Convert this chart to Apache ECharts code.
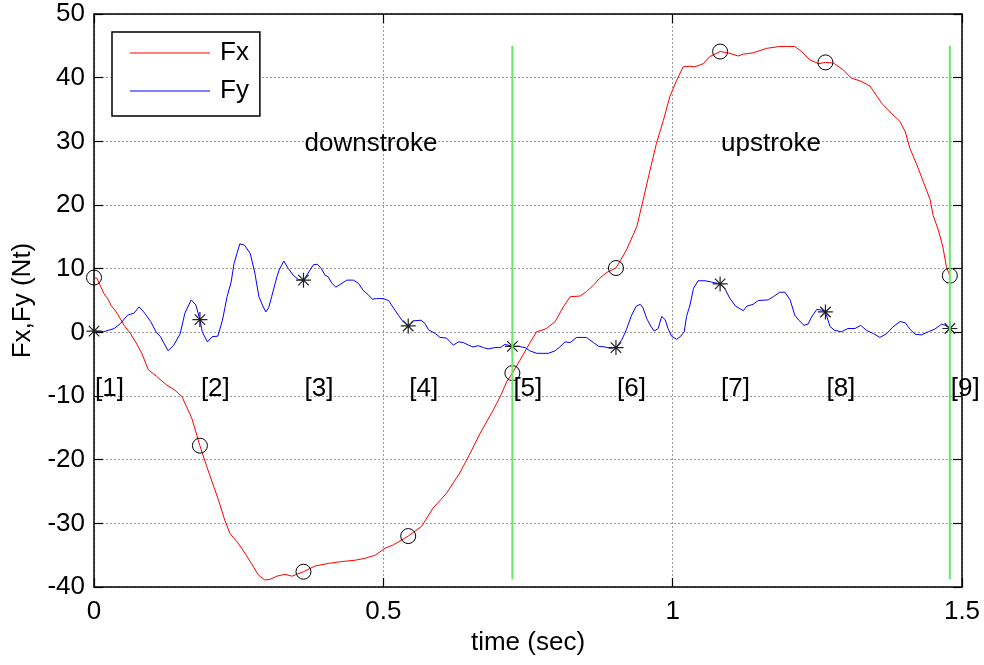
<!DOCTYPE html>
<html>
<head>
<meta charset="utf-8">
<title>Fx, Fy over one stroke cycle</title>
<script src="https://cdn.jsdelivr.net/npm/echarts@6/dist/echarts.min.js"></script>
<style>
  html, body { margin: 0; padding: 0; background: #fff; }
  #chart { width: 984px; height: 665px; }
</style>
</head>
<body>
<div id="chart"></div>
<script>
// Horizontal force Fx (Nt) sampled over time (sec)
const fxTime = [0.000,0.005,0.017,0.025,0.029,0.040,0.052,0.063,0.075,0.083,0.094,0.108,0.126,0.140,0.152,0.160,0.169,0.183,0.195,0.203,0.215,0.226,0.235,0.249,0.261,0.272,0.284,0.295,0.304,0.316,0.330,0.342,0.362,0.382,0.405,0.428,0.451,0.468,0.486,0.494,0.503,0.517,0.543,0.566,0.586,0.609,0.632,0.650,0.667,0.690,0.702,0.713,0.723,0.736,0.753,0.765,0.776,0.782,0.797,0.811,0.823,0.840,0.851,0.863,0.874,0.886,0.902,0.920,0.938,0.949,0.961,0.972,0.984,0.995,1.007,1.018,1.030,1.038,1.053,1.064,1.082,1.096,1.113,1.122,1.139,1.162,1.185,1.197,1.211,1.223,1.237,1.252,1.264,1.278,1.295,1.309,1.324,1.341,1.361,1.378,1.393,1.402,1.410,1.422,1.433,1.445,1.450,1.459,1.467,1.473,1.479];
const fxValue = [8.6,8.5,6.1,5.1,4.3,3.0,1.1,-0.2,-2.0,-3.4,-5.9,-6.9,-8.3,-9.1,-10.1,-11.7,-13.5,-17.8,-21.1,-23.2,-26.3,-29.5,-31.6,-33.1,-34.7,-36.3,-38.1,-38.9,-38.8,-38.3,-38.0,-38.3,-37.6,-36.7,-36.3,-36.0,-35.8,-35.5,-35.0,-34.5,-33.9,-33.4,-32.0,-30.5,-27.6,-25.3,-22.1,-19.0,-15.9,-12.2,-10.1,-7.8,-6.4,-4.4,-1.7,0.1,0.4,0.6,1.7,4.0,5.6,5.7,6.4,7.4,8.5,9.4,10.1,12.9,16.6,20.8,25.5,29.7,33.3,37.0,39.6,41.7,41.8,41.7,42.2,43.3,44.1,43.9,43.4,43.7,43.9,44.6,44.9,44.9,44.9,44.1,42.8,42.2,42.4,42.3,41.2,39.9,39.5,38.7,36.0,34.4,33.1,31.5,28.9,26.3,23.7,20.8,18.4,16.1,13.4,10.3,8.9];

// Vertical force Fy (Nt) sampled over time (sec)
const fyTime = [0.000,0.003,0.017,0.035,0.046,0.058,0.069,0.078,0.086,0.098,0.107,0.115,0.128,0.138,0.149,0.157,0.168,0.176,0.183,0.187,0.196,0.204,0.214,0.222,0.230,0.237,0.242,0.252,0.260,0.270,0.278,0.285,0.291,0.297,0.302,0.307,0.316,0.320,0.328,0.336,0.344,0.353,0.362,0.370,0.379,0.386,0.393,0.399,0.405,0.411,0.418,0.425,0.437,0.448,0.457,0.465,0.474,0.481,0.488,0.500,0.509,0.514,0.520,0.526,0.532,0.543,0.552,0.565,0.572,0.578,0.584,0.590,0.598,0.609,0.621,0.630,0.638,0.647,0.655,0.664,0.673,0.681,0.693,0.702,0.710,0.723,0.733,0.745,0.753,0.765,0.785,0.797,0.805,0.814,0.823,0.834,0.851,0.863,0.872,0.883,0.892,0.902,0.912,0.920,0.929,0.937,0.944,0.949,0.955,0.962,0.968,0.975,0.981,0.987,0.992,0.998,1.007,1.014,1.020,1.024,1.030,1.036,1.044,1.056,1.067,1.082,1.090,1.099,1.109,1.122,1.128,1.139,1.148,1.165,1.174,1.185,1.194,1.203,1.211,1.218,1.227,1.234,1.240,1.249,1.257,1.264,1.272,1.280,1.292,1.303,1.315,1.325,1.335,1.347,1.358,1.370,1.380,1.393,1.402,1.410,1.419,1.430,1.442,1.453,1.465,1.471,1.479];
const fyValue = [0.2,0.0,0.1,0.6,1.4,2.7,3.0,4.0,3.2,1.7,0.1,-0.7,-2.9,-2.0,-0.2,3.0,5.1,4.3,2.0,0.1,-1.5,-0.7,-0.6,1.9,5.6,7.9,10.8,13.9,13.7,12.4,9.3,5.6,4.3,3.2,3.9,5.6,8.7,9.8,11.2,10.0,9.0,8.3,8.2,9.3,10.6,10.7,10.0,9.0,8.7,7.7,7.1,7.5,8.2,8.2,7.7,6.6,5.9,5.2,5.3,5.3,5.0,4.3,3.5,2.7,1.9,1.0,1.8,1.9,1.4,0.4,0.1,-0.2,-0.8,-0.9,-2.0,-1.5,-1.6,-2.0,-2.3,-2.1,-2.4,-2.6,-2.4,-2.4,-1.9,-2.2,-2.2,-2.4,-2.9,-3.3,-3.3,-2.9,-2.3,-1.5,-1.6,-0.8,-0.8,-1.6,-2.2,-2.3,-2.5,-2.4,-1.2,0.4,2.7,4.1,4.4,3.8,2.2,1.0,0.2,0.6,2.5,2.0,0.6,-0.6,-1.1,-0.6,0.1,2.5,4.3,6.9,8.1,8.1,7.9,7.6,6.9,5.3,4.1,3.4,4.1,4.4,5.0,5.1,5.6,6.3,6.3,5.1,2.7,1.9,1.1,1.3,2.4,3.6,3.5,3.2,0.9,0.3,0.1,0.6,0.6,1.1,0.3,-0.2,-0.8,-0.2,0.8,1.7,1.5,0.5,-0.3,-0.4,0.1,0.5,1.3,1.1,0.6];

// Phase instants [1]..[9] and the forces read at each of them
const phaseTime = [0, 0.183, 0.362, 0.543, 0.723, 0.902, 1.082, 1.264, 1.479];
const phaseFx = [8.6, -17.8, -37.6, -32.0, -6.4, 10.1, 44.1, 42.4, 8.9];
const phaseFy = [0.2, 2.0, 8.2, 1.0, -2.2, -2.4, 7.6, 3.2, 0.6];
const phaseTags = ['[1]', '[2]', '[3]', '[4]', '[5]', '[6]', '[7]', '[8]', '[9]'];
const phaseTagLevel = -8.8;

// Stroke names and where they are written
const strokeNames = ['downstroke', 'upstroke'];
const strokeNameTime = [0.362, 1.082];
const strokeNameLevel = 29.6;

// End of downstroke / end of upstroke boundaries
const boundaryTime = [0.723, 1.479];
const boundaryRange = [-38.8, 45];

// Axis ticks
const xTicks = [0, 0.5, 1, 1.5];
const yMin = -40, yMax = 50, yStep = 10;

const FONT = 'Liberation Sans, Arial, Helvetica, sans-serif';
const FS = 26;
const zip = (a, b) => a.map((v, i) => [v, b[i]]);

const chart = echarts.init(document.getElementById('chart'), null, { renderer: 'canvas' });

const gridLine = { color: '#9a9a9a', type: [2, 2], width: 1 };
const frameAxisX = (pos, labels) => ({
  type: 'value', position: pos, min: xTicks[0], max: xTicks[xTicks.length - 1],
  interval: xTicks[1] - xTicks[0],
  axisLine: { show: true, onZero: false, lineStyle: { color: '#000', width: 1.5 } },
  axisTick: { show: true, inside: true, length: 9, lineStyle: { color: '#000', width: 1.2 } },
  axisLabel: { show: labels, margin: 12, color: '#000', fontSize: FS, fontFamily: FONT,
               formatter: v => String(v) },
  splitLine: { show: labels, lineStyle: gridLine }
});
const frameAxisY = (pos, labels) => ({
  type: 'value', position: pos, min: yMin, max: yMax, interval: yStep,
  axisLine: { show: true, onZero: false, lineStyle: { color: '#000', width: 1.5 } },
  axisTick: { show: true, inside: true, length: 9, lineStyle: { color: '#000', width: 1.2 } },
  axisLabel: { show: labels, margin: 9, color: '#000', fontSize: FS, fontFamily: FONT },
  splitLine: { show: labels, lineStyle: gridLine }
});

const xBottom = Object.assign(frameAxisX('bottom', true), {
  name: 'time (sec)', nameLocation: 'middle', nameGap: 41,
  nameTextStyle: { color: '#000', fontSize: FS, fontFamily: FONT }
});
const yLeft = Object.assign(frameAxisY('left', true), {
  name: 'Fx,Fy (Nt)', nameLocation: 'middle', nameGap: 58,
  nameTextStyle: { color: '#000', fontSize: FS, fontFamily: FONT }
});

const starPath = 'path://M10 0 L10 20 M0 10 L20 10 M3 3 L17 17 M17 3 L3 17';

const textSeries = (name, times, levels, texts) => ({
  name, type: 'scatter', symbolSize: 0.01, silent: true, z: 6,
  itemStyle: { opacity: 1 },
  data: times.map((t, i) => ({ value: [t, Array.isArray(levels) ? levels[i] : levels], tag: texts[i] })),
  label: {
    show: true, position: 'right', distance: 1,
    formatter: p => p.data.tag,
    color: '#000', fontSize: FS, fontFamily: FONT
  }
});

const option = {
  animation: false,
  backgroundColor: '#fff',
  grid: { left: 94, top: 14, right: 22, bottom: 78, containLabel: false },
  legend: {
    orient: 'vertical', left: 112, top: 32,
    data: [{ name: 'Fx', icon: 'rect' }, { name: 'Fy', icon: 'rect' }],
    itemWidth: 80, itemHeight: 1.2, itemGap: 12,
    padding: [8, 11, 12, 18],
    borderColor: '#000', borderWidth: 1.5, backgroundColor: '#fff',
    textStyle: { color: '#000', fontSize: FS, fontFamily: FONT, padding: [0, 0, 0, 5] }
  },
  xAxis: [xBottom, frameAxisX('top', false)],
  yAxis: [yLeft, frameAxisY('right', false)],
  series: [
    {
      name: 'Fx', type: 'line', data: zip(fxTime, fxValue), showSymbol: false, symbol: 'none',
      lineStyle: { color: '#ff0000', width: 1 }, itemStyle: { color: '#ff0000' }, z: 3
    },
    {
      name: 'Fy', type: 'line', data: zip(fyTime, fyValue), showSymbol: false, symbol: 'none',
      lineStyle: { color: '#0000ff', width: 1 }, itemStyle: { color: '#0000ff' }, z: 3
    },
    {
      name: 'Fx at phase', type: 'scatter', data: zip(phaseTime, phaseFx), symbol: 'circle', symbolSize: 15,
      itemStyle: { color: 'rgba(0,0,0,0)', borderColor: '#000', borderWidth: 1, opacity: 1 }, z: 4, silent: true
    },
    {
      name: 'Fy at phase', type: 'scatter', data: zip(phaseTime, phaseFy), symbol: starPath, symbolSize: 15,
      itemStyle: { color: 'rgba(0,0,0,0)', borderColor: '#222', borderWidth: 1.2, opacity: 1 }, z: 4, silent: true
    },
    textSeries('phase tags', phaseTime, phaseTagLevel, phaseTags),
    textSeries('stroke names', strokeNameTime, strokeNameLevel, strokeNames),
    ...boundaryTime.map((t, i) => ({
      name: 'boundary ' + (i + 1), type: 'line', symbol: 'none', silent: true, z: 5,
      data: boundaryRange.map(v => [t, v]),
      lineStyle: { color: '#66e866', width: 2 }
    }))
  ]
};

chart.setOption(option);
</script>
</body>
</html>
